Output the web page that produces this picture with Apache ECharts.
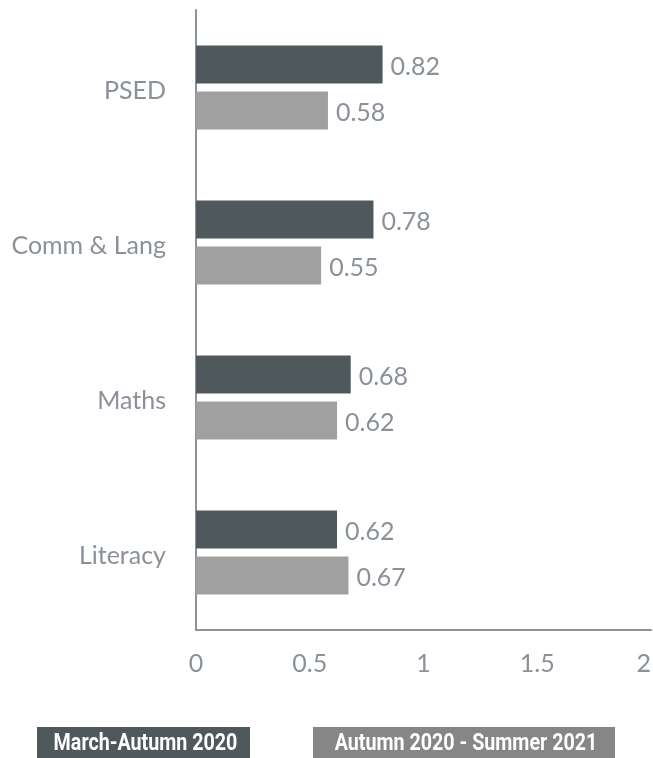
<!DOCTYPE html>
<html>
<head>
<meta charset="utf-8">
<script src="https://cdn.jsdelivr.net/npm/echarts@6/dist/echarts.min.js"></script>
<style>
  html, body { margin: 0; padding: 0; background: #fff; }
  #chart { width: 653px; height: 758px; }
</style>
</head>
<body>
<div id="chart"></div>
<script>
const categories = ['PSED', 'Comm & Lang', 'Maths', 'Literacy'];
const seriesNames = ['March-Autumn 2020', 'Autumn 2020 - Summer 2021'];
const marchAutumn = [0.82, 0.78, 0.68, 0.62];
const autumnSummer = [0.58, 0.55, 0.62, 0.67];
const xTicks = [0, 0.5, 1, 1.5, 2];

const textGray = '#8a9199';
const barColors = ['#4f585b', '#a0a0a0'];
const legendColors = ['#4f585b', '#868686'];

const myChart = echarts.init(document.getElementById('chart'));

const labelStyle = {
  show: true,
  position: 'right',
  distance: 8,
  offset: [0, 2],
  color: textGray,
  fontFamily: 'Lato',
  fontSize: 25
};

// legend drawn as filled boxes with condensed bold white text
function legendItem(name, color, left, width) {
  return [
    {
      type: 'rect',
      left: left, top: 727,
      shape: { width: width, height: 32 },
      style: { fill: color }
    },
    {
      type: 'text',
      x: left + width / 2 + 2, y: 744,
      scaleX: 0.82,
      style: {
        text: name,
        fill: '#fff',
        font: 'bold 24px Roboto',
        align: 'center',
        verticalAlign: 'middle'
      }
    }
  ];
}

const option = {
  animation: false,
  grid: { left: 196, right: 2, top: 10, bottom: 128, outerBoundsMode: 'none' },
  xAxis: {
    type: 'value',
    min: xTicks[0],
    max: xTicks[xTicks.length - 1],
    interval: 0.5,
    splitLine: { show: false },
    axisTick: { show: false },
    axisLine: { show: true, lineStyle: { color: '#8c939a', width: 2 } },
    axisLabel: {
      color: textGray, fontFamily: 'Lato', fontSize: 25, margin: 21,
      alignMaxLabel: 'right'
    }
  },
  yAxis: {
    type: 'category',
    inverse: true,
    data: categories,
    axisTick: { show: false },
    axisLine: { show: true, lineStyle: { color: '#8c939a', width: 2 } },
    axisLabel: {
      margin: 30,
      formatter: '{c|{value}}',
      rich: {
        c: {
          color: textGray, fontFamily: 'Lato', fontSize: 25,
          padding: [7, 0, 0, 0]
        }
      }
    }
  },
  series: [
    {
      name: seriesNames[0],
      type: 'bar',
      data: marchAutumn,
      barWidth: 38,
      barGap: '21%',
      itemStyle: { color: barColors[0] },
      label: labelStyle
    },
    {
      name: seriesNames[1],
      type: 'bar',
      data: autumnSummer,
      barWidth: 38,
      itemStyle: { color: barColors[1] },
      label: labelStyle
    }
  ],
  graphic: [
    ...legendItem(seriesNames[0], legendColors[0], 37, 213),
    ...legendItem(seriesNames[1], legendColors[1], 313, 302)
  ]
};

option && myChart.setOption(option);
</script>
</body>
</html>
